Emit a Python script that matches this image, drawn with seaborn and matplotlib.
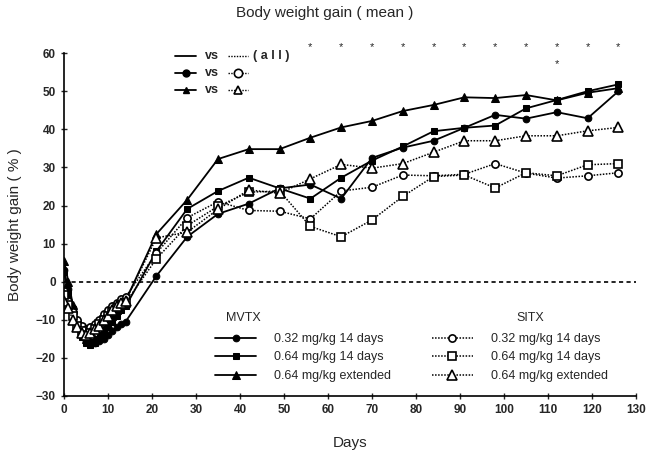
import numpy as np
import pandas as pd
import matplotlib
matplotlib.use("Agg")
import matplotlib.pyplot as plt
import seaborn as sns
from matplotlib.lines import Line2D

# days of measurement
days = [0, 1, 2, 3, 4, 5, 6, 7, 8, 9, 10, 11, 12, 13, 14,
        21, 28, 35, 42, 49, 56, 63, 70, 77, 84, 91, 98, 105, 112, 119, 126]

# MVTX (solid lines, filled markers)
mvtx_032_14d = [3, -2, -7, -11, -14, -15.5, -16, -16, -15.5, -15, -14, -13, -12, -11, -10.5,
                1.5, 11.8, 17.8, 20.5, 24.5, 25.5, 21.8, 32.5, 35.2, 37, 40.4, 43.8, 42.8, 44.5, 42.9, 50]
mvtx_064_14d = [2.5, -3, -8, -12, -14.5, -16, -16.5, -16, -15, -13.5, -12, -10.5, -9, -7.5, -6.5,
                8, 19.1, 23.8, 27.3, 24.5, 21.8, 27.3, 31.8, 35.5, 39.5, 40.4, 41, 45.5, 47.7, 50, 51.8]
mvtx_064_ext = [5.5, 0, -6, -10, -13, -15, -15.5, -15, -14, -12.5, -11, -9, -7.5, -6, -5,
                12.5, 21.5, 32.2, 34.8, 34.8, 37.8, 40.5, 42.2, 44.8, 46.4, 48.4, 48.2, 49, 47.6, 49.6, 50.8]

# SITX (dotted lines, open markers)
sitx_032_14d = [-2.5, -5, -8, -10, -11.5, -12.5, -12, -11, -10, -8.5, -7.5, -6.5, -5.5, -4.5, -4,
                7.5, 16.8, 21, 18.7, 18.5, 16.5, 23.8, 24.8, 28, 27.8, 28.2, 31, 28.5, 27.2, 27.8, 28.6]
sitx_064_14d = [-3.5, -6, -9, -11.5, -13, -14, -13.5, -12.5, -11, -10, -9, -8, -7, -6, -5.5,
                6, 14.7, 19.8, 23.5, 23.8, 14.5, 11.8, 16.2, 22.4, 27.6, 28, 24.6, 28.6, 27.8, 30.7, 31]
sitx_064_ext = [-5, -7, -10, -12, -13.5, -14, -13.5, -12.5, -11.5, -10, -9, -7.5, -6.5, -5.5, -5,
                11.5, 13, 19, 24.1, 23.2, 27, 30.8, 29.8, 31, 34, 37, 37, 38.3, 38.3, 39.6, 40.5]

labels = ["0.32 mg/kg 14 days", "0.64 mg/kg 14 days", "0.64 mg/kg extended"]

# significance stars
star_days = [56, 63, 70, 77, 84, 91, 98, 105, 112, 119, 126]
star_level = 61.5
star2_days = [112]
star2_level = 57

x_ticks = list(range(0, 131, 10))
y_ticks = list(range(-30, 61, 10))

sns.set_style("ticks")
plt.rcParams["font.family"] = ["Liberation Sans", "DejaVu Sans"]

fig = plt.figure(figsize=(6.49, 4.58), dpi=100)
ax = fig.add_axes([0.0986, 0.1354, 0.8814, 0.7486])

markers = ["o", "s", "^"]
fsizes = [4.8, 4.8, 5.5]
osizes = [5.2, 5.5, 6.5]
mvtx_lines = []
for vals, m, ms, lab in zip([mvtx_032_14d, mvtx_064_14d, mvtx_064_ext], markers, fsizes, labels):
    sns.lineplot(x=days, y=vals, ax=ax, color="black", linewidth=1.3, marker=m,
                 markersize=ms, markerfacecolor="black", markeredgecolor="black",
                 label=lab, legend=False)
    mvtx_lines.append(ax.lines[-1])

sitx_lines = []
for vals, m, ms, lab in zip([sitx_032_14d, sitx_064_14d, sitx_064_ext], markers, osizes, labels):
    sns.lineplot(x=days, y=vals, ax=ax, color="black", linewidth=1.1, linestyle=(0, (1, 1)),
                 marker=m, markersize=ms, markerfacecolor="white", markeredgecolor="black",
                 markeredgewidth=1.2, label=lab, legend=False)
    sitx_lines.append(ax.lines[-1])

ax.axhline(0, color="black", linestyle=(0, (2.5, 2)), linewidth=1.2, zorder=0)

for d in star_days:
    ax.text(d, star_level, "*", ha="center", va="center", fontsize=8, clip_on=False)
for d in star2_days:
    ax.text(d, star2_level, "*", ha="center", va="center", fontsize=8, clip_on=False)

ax.set_xlim(0, 130)
ax.set_ylim(-30, 60)
ax.set_xticks(x_ticks)
ax.set_yticks(y_ticks)
ax.tick_params(axis="both", direction="inout", length=5, width=1, labelsize=8.5)
for t in ax.get_xticklabels() + ax.get_yticklabels():
    t.set_fontweight("bold")
sns.despine(ax=ax)
for s in ["left", "bottom"]:
    ax.spines[s].set_linewidth(1.2)
    ax.spines[s].set_color("black")

ax.set_xlabel("Days", fontsize=11, labelpad=14)
ax.set_ylabel("Body weight gain ( % )", fontsize=11, labelpad=10)
fig.text(0.5, 0.972, "Body weight gain ( mean )", ha="center", va="center", fontsize=11)

# top key: MVTX vs SITX
rows_y = [0.991, 0.942, 0.892]
key_markers = [None, "o", "^"]
tr = ax.transAxes
for yy, m in zip(rows_y, key_markers):
    ax.add_line(Line2D([0.194, 0.231], [yy, yy], transform=tr, color="black", lw=1.3, clip_on=False))
    ax.add_line(Line2D([0.287, 0.322], [yy, yy], transform=tr, color="black", lw=1.0,
                       linestyle=(0, (1, 1)), clip_on=False))
    if m is not None:
        ax.add_line(Line2D([0.2125], [yy], transform=tr, marker=m, markersize=5, color="black",
                           clip_on=False))
        ax.add_line(Line2D([0.3045], [yy], transform=tr, marker=m, markersize=6,
                           markerfacecolor="white", markeredgecolor="black", markeredgewidth=1.2,
                           clip_on=False))
    ax.text(0.258, yy, "vs", transform=tr, ha="center", va="center", fontsize=9, fontweight="bold")
ax.text(0.33, rows_y[0], "( a l l )", transform=tr, ha="left", va="center", fontsize=9,
        fontweight="bold")

# bottom legends
leg1 = ax.legend(handles=mvtx_lines, labels=labels, loc="upper left",
                 bbox_to_anchor=(0.264, 0.184), frameon=False, fontsize=9,
                 handlelength=3.3, handletextpad=1.4, labelspacing=0.52,
                 borderpad=0, borderaxespad=0)
ax.add_artist(leg1)
ax.legend(handles=sitx_lines, labels=labels, loc="upper left",
          bbox_to_anchor=(0.643, 0.184), frameon=False, fontsize=9,
          handlelength=3.3, handletextpad=1.4, labelspacing=0.52,
          borderpad=0, borderaxespad=0)
ax.text(0.313, 0.227, "MVTX", transform=tr, ha="center", va="center", fontsize=9)
ax.text(0.815, 0.227, "SITX", transform=tr, ha="center", va="center", fontsize=9)

fig.savefig("out.png", dpi=100)
